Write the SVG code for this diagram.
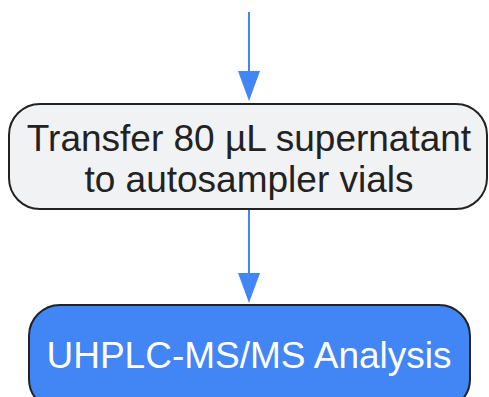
<svg xmlns="http://www.w3.org/2000/svg" width="489" height="397" viewBox="0 0 489 397">
<style>
.lbl{font-family:"Liberation Sans",Arial,sans-serif;font-size:37px;text-anchor:middle}
.edge{stroke:#4285f4;stroke-width:2;fill:none}
</style>
<rect width="489" height="397" fill="#ffffff"/>
<g id="connectors">
<line class="edge" x1="249" y1="12" x2="249" y2="71"/>
<path d="M238,71 L260,71 L249,101 Z" fill="#4285f4"/>
<line class="edge" x1="249" y1="209" x2="249" y2="273"/>
<path d="M238,273 L260,273 L249,303 Z" fill="#4285f4"/>
</g>
<g id="transfer">
<rect x="9" y="104" width="478" height="105" rx="31" ry="31" fill="#f1f2f4" stroke="#222222" stroke-width="2"/>
<text class="lbl" x="249" y="151" fill="#222222">Transfer 80 µL supernatant</text>
<text class="lbl" x="249" y="192" fill="#222222">to autosampler vials</text>
</g>
<g id="analysis">
<rect x="29" y="305" width="441" height="105" rx="31" ry="31" fill="#4285f4" stroke="#222222" stroke-width="2"/>
<text class="lbl" x="249" y="368" fill="#ffffff">UHPLC-MS/MS Analysis</text>
</g>
</svg>
